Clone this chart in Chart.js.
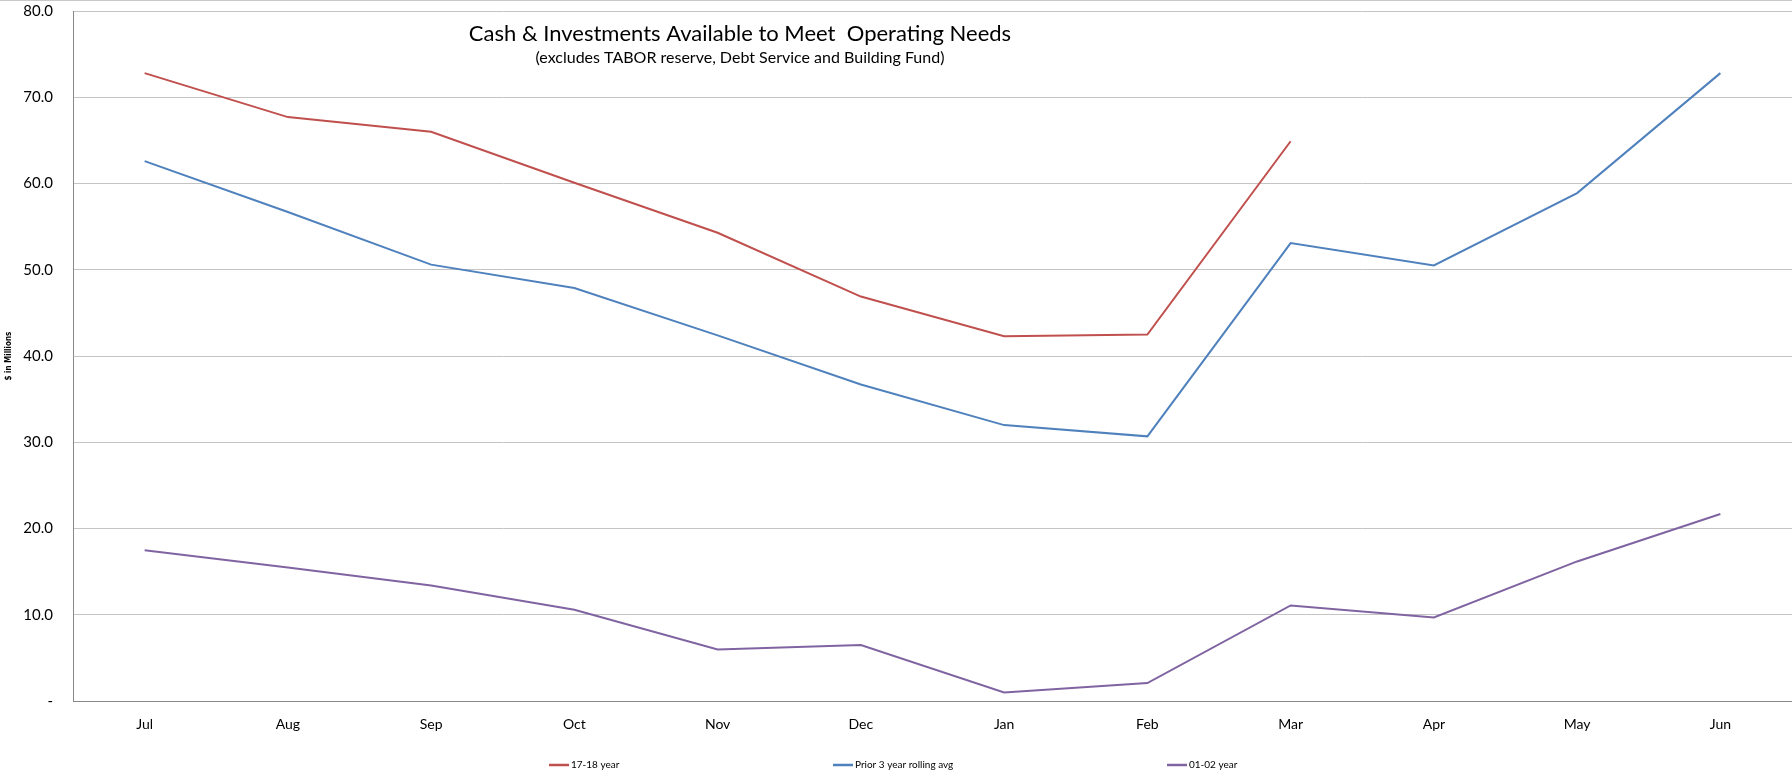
<!DOCTYPE html>
<html>
<head>
<meta charset="utf-8">
<script src="https://cdn.jsdelivr.net/npm/chart.js@4"></script>
<style>
  html, body { margin: 0; padding: 0; background: #fff; }
  #wrap { width: 1792px; height: 777px; position: relative; border-top: 1px solid #c8c8c8; box-sizing: border-box; }
</style>
</head>
<body>
<div id="wrap"><canvas id="cashChart"></canvas></div>
<script>
// Month labels (fiscal year Jul - Jun)
const months = ['Jul', 'Aug', 'Sep', 'Oct', 'Nov', 'Dec', 'Jan', 'Feb', 'Mar', 'Apr', 'May', 'Jun'];

// Series values, $ in millions
const year1718 = [72.8, 67.7, 66.0, 60.1, 54.3, 46.9, 42.3, 42.5, 64.9, null, null, null];
const prior3yrAvg = [62.6, 56.7, 50.6, 47.9, 42.4, 36.7, 32.0, 30.7, 53.1, 50.5, 58.9, 72.8];
const year0102 = [17.5, 15.5, 13.4, 10.6, 6.0, 6.5, 1.0, 2.1, 11.1, 9.7, 16.2, 21.7];

const titleText = 'Cash & Investments Available to Meet  Operating Needs';
const subtitleText = '(excludes TABOR reserve, Debt Service and Building Fund)';

// Where each legend entry starts (Excel spreads them across the bottom)
const legendX = [549, 833, 1167];

// Title sits inside the plot area and the legend is spread out,
// so both get drawn by hand after the chart
const extras = {
    id: 'extras',
    afterDraw(chart) {
        const ctx = chart.ctx;
        ctx.save();
        ctx.fillStyle = '#000';
        ctx.textAlign = 'center';
        ctx.textBaseline = 'middle';
        ctx.font = '22px Lato';
        ctx.fillText(titleText, 740, 33);
        ctx.font = '16px Lato';
        ctx.fillText(subtitleText, 740, 57);

        // legend
        ctx.textAlign = 'left';
        ctx.font = '10px Lato';
        chart.data.datasets.forEach((ds, i) => {
            const x = legendX[i];
            const y = 764;
            ctx.strokeStyle = ds.borderColor;
            ctx.lineWidth = 2.5;
            ctx.beginPath();
            ctx.moveTo(x, y);
            ctx.lineTo(x + 20, y);
            ctx.stroke();
            ctx.fillText(ds.label, x + 22, y);
        });
        ctx.restore();
    }
};

function line(label, data, color) {
    return {
        label: label,
        data: data,
        borderColor: color,
        backgroundColor: color,
        borderWidth: 2,
        pointRadius: 0,
        tension: 0,
        fill: false,
        spanGaps: false
    };
}

const ctx = document.getElementById('cashChart').getContext('2d');
new Chart(ctx, {
    type: 'line',
    data: {
        labels: months,
        datasets: [
            line('17-18 year', year1718, '#C0504D'),
            line('Prior 3 year rolling avg', prior3yrAvg, '#4F81BD'),
            line('01-02 year', year0102, '#8064A2')
        ]
    },
    options: {
        responsive: true,
        maintainAspectRatio: false,
        animation: false,
        layout: { padding: { top: 0, left: 4, right: 0, bottom: 29 } },
        scales: {
            x: {
                offset: true,
                grid: { display: false, drawTicks: false },
                border: { color: '#888', width: 1 },
                ticks: { color: '#000', font: { family: 'Lato', size: 14 }, padding: 15 }
            },
            y: {
                min: 0,
                max: 80,
                afterFit: s => { s.width = 69; },
                ticks: {
                    stepSize: 10,
                    color: '#000',
                    padding: 1,
                    font: { family: 'Lato', size: 15 },
                    callback: v => v === 0 ? '-' : v.toFixed(1)
                },
                grid: { color: '#c4c4c4', tickLength: 19, tickColor: 'rgba(0,0,0,0)' },
                border: { color: '#888', width: 1 },
                title: {
                    display: true,
                    text: '$ in Millions',
                    color: '#000',
                    font: { family: 'DejaVu Sans Condensed', size: 8, weight: 'bold' },
                    padding: { top: 0, bottom: 4 }
                }
            }
        },
        plugins: {
            legend: { display: false },
            tooltip: { enabled: false }
        }
    },
    plugins: [extras]
});
</script>
</body>
</html>
